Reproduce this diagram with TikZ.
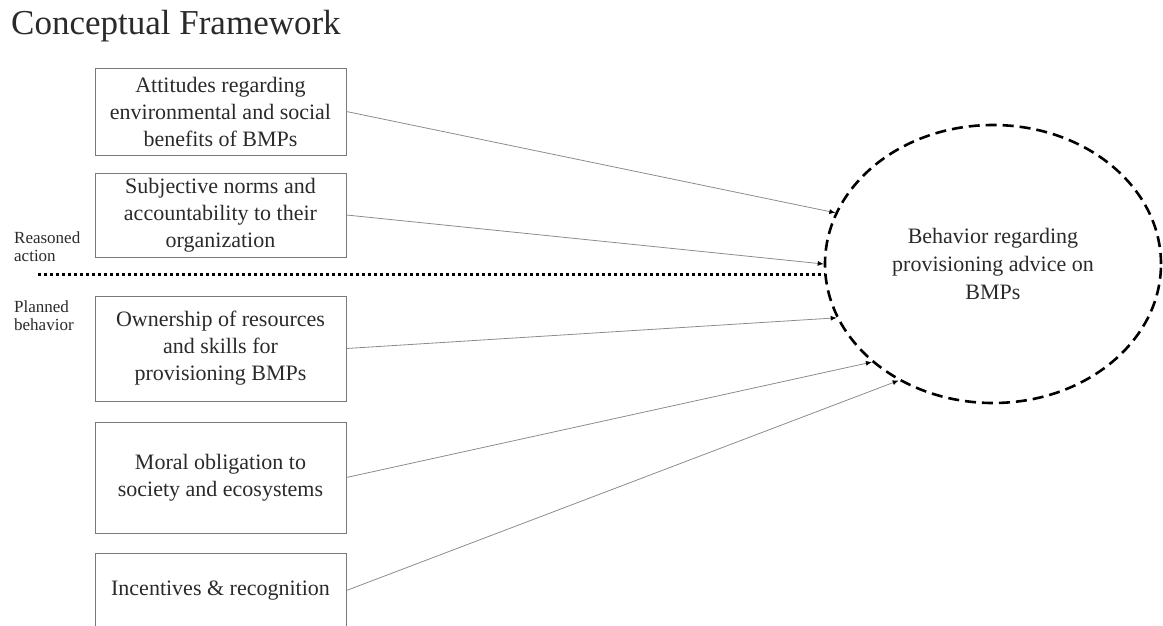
\documentclass[tikz,border=0pt]{standalone}
\usepackage{fontspec}
\setmainfont{Liberation Serif}
\usetikzlibrary{shapes.geometric,arrows.meta}
\definecolor{txt}{HTML}{2A2A2A}
\definecolor{boxline}{HTML}{7A7A7A}
\definecolor{conn}{HTML}{8C8C8C}
\begin{document}
\begin{tikzpicture}[x=1pt,y=-1pt,
  factor/.style={draw=boxline, line width=0.9pt, rectangle, minimum width=251pt,
    inner sep=0pt, align=center, text=txt, font=\fontsize{22}{27}\selectfont},
  link/.style={draw=conn, line width=0.8pt, -{Latex[length=6pt,width=5pt,color=black]}},
  side/.style={anchor=west, inner sep=0pt, align=left, text=txt, font=\fontsize{17}{18}\selectfont},
  outcome/.style={ellipse, draw=black, line width=2.6pt, dash pattern=on 11pt off 6pt,
    minimum width=336pt, minimum height=278pt, inner sep=0pt, align=center,
    text=txt, font=\fontsize{22}{28}\selectfont},
  split/.style={line width=3pt, dash pattern=on 3pt off 3pt}]
\useasboundingbox (0,0) rectangle (1163,626);

\node[anchor=base west, inner sep=0pt, text=txt, font=\fontsize{35}{40}\selectfont] (title) at (11,35) {Conceptual Framework};

\node[factor, minimum height=87pt] (f1) at (220.5,111.5) {Attitudes regarding\\environmental and social\\benefits of BMPs};
\node[factor, minimum height=84pt] (f2) at (220.5,215) {Subjective norms and\\accountability to their\\organization};
\node[factor, minimum height=105pt] (f3) at (220.5,348.5) {Ownership of resources\\and skills for\\provisioning BMPs};
\node[factor, minimum height=111pt] (f4) at (220.5,477.5) {Moral obligation to\\society and ecosystems};
\node[factor, minimum height=75pt] (f5) at (220.5,590.5) {Incentives \& recognition};

\node[outcome] (beh) at (993,264) {Behavior regarding\\provisioning advice on\\BMPs};

\node[side] (ra) at (14,247) {Reasoned\\action};
\node[side] (pb) at (14,316) {Planned\\behavior};

\coordinate (dl) at (38,274);
\coordinate (dr) at (825,274);
\draw[split] (dl) -- (dr);

\draw[link] (f1.east) -- (beh.162.3);
\draw[link] (f2.east) -- (beh.180);
\draw[link] (f3.east) -- (beh.199.5);
\draw[link] (f4.east) -- (beh.219.4);
\draw[link] (f5.east) -- (beh.231.8);
\end{tikzpicture}
\end{document}
